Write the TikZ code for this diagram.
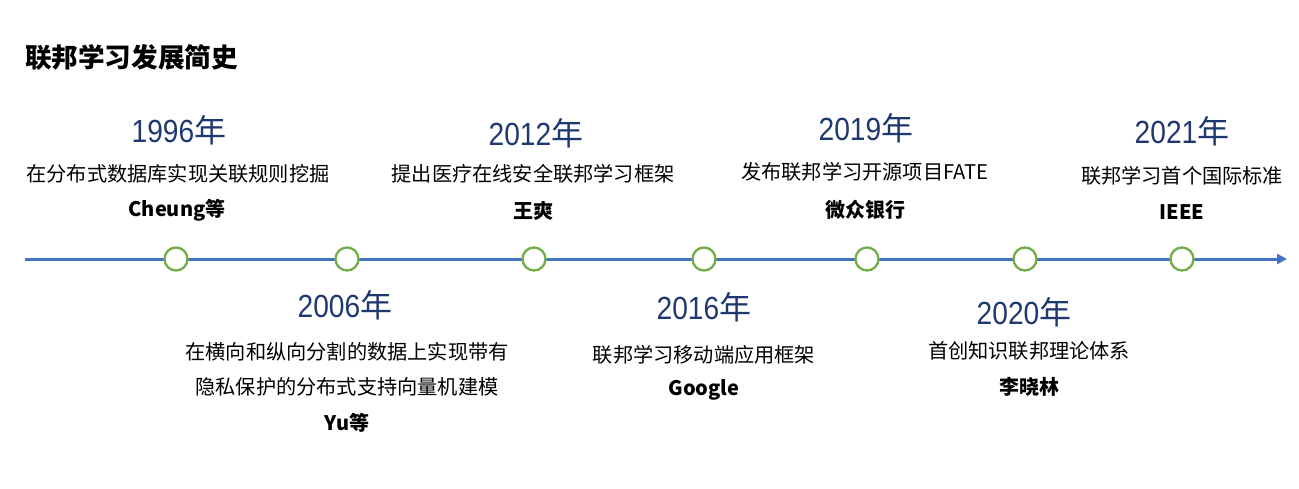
\documentclass[tikz,border=0pt]{standalone}
\usepackage{fontspec}
\setmainfont{Noto Sans CJK SC}
\newfontfamily\arialf{Liberation Sans}
\usetikzlibrary{arrows.meta}
\definecolor{lineblue}{HTML}{4472C4}
\definecolor{dotgreen}{HTML}{70AD47}
\definecolor{yearblue}{HTML}{1F3870}
\newcommand{\yr}[1]{{\arialf\scalebox{0.88}[1]{#1}}年}
\tikzset{
  yearlbl/.style={text=yearblue, font=\fontsize{32pt}{36pt}\selectfont, inner sep=0pt, anchor=center},
  desclbl/.style={text=black, font=\fontsize{20.2pt}{23pt}\selectfont, inner sep=0pt, anchor=center},
  namelbl/.style={text=black, font=\fontsize{20pt}{23pt}\selectfont\bfseries, inner sep=0pt, anchor=center},
  dot/.style={circle, draw=dotgreen, line width=2.3pt, fill=white, minimum size=23pt, inner sep=0pt},
  axis/.style={draw=lineblue, line width=3pt, -{Triangle[length=10pt,width=10pt]}},
}
\begin{document}
\begin{tikzpicture}[x=1pt,y=-1pt]
\useasboundingbox (0,0) rectangle (1299,488);
\node[font=\fontsize{26.6pt}{30pt}\selectfont\bfseries, anchor=west, inner sep=0pt] (title) at (25,57) {联邦学习发展简史};
% axis
\coordinate (start) at (25,259);
\coordinate (end) at (1287,259);
\draw[axis] (start) -- (end);
% dots
\node[dot] (d1) at (176,259) {};
\node[dot] (d2) at (347,259) {};
\node[dot] (d3) at (534,259) {};
\node[dot] (d4) at (704,259) {};
\node[dot] (d5) at (867,259) {};
\node[dot] (d6) at (1025,259) {};
\node[dot] (d7) at (1182,259) {};
% 1996
\node[yearlbl] (y1) at (179,130) {\yr{1996}};
\node[desclbl] (t1) at (178,174) {在分布式数据库实现关联规则挖掘};
\node[namelbl] (n1) at (177,210) {Cheung等};
% 2006
\node[yearlbl] (y2) at (345,305) {\yr{2006}};
\node[desclbl] (t2a) at (347,352) {在横向和纵向分割的数据上实现带有};
\node[desclbl] (t2b) at (347,387) {隐私保护的分布式支持向量机建模};
\node[namelbl] (n2) at (347,423) {Yu等};
% 2012
\node[yearlbl] (y3) at (536,133) {\yr{2012}};
\node[desclbl] (t3) at (533,174) {提出医疗在线安全联邦学习框架};
\node[namelbl] (n3) at (533,211) {王爽};
% 2016
\node[yearlbl] (y4) at (704,307) {\yr{2016}};
\node[desclbl] (t4) at (704,355) {联邦学习移动端应用框架};
\node[namelbl] (n4) at (704,390) {Google};
% 2019
\node[yearlbl] (y5) at (866,128) {\yr{2019}};
\node[desclbl] (t5) at (865,172) {发布联邦学习开源项目FATE};
\node[namelbl] (n5) at (865,210) {微众银行};
% 2020
\node[yearlbl] (y6) at (1024,312) {\yr{2020}};
\node[desclbl] (t6) at (1029,351) {首创知识联邦理论体系};
\node[namelbl] (n6) at (1029,387) {李晓林};
% 2021
\node[yearlbl] (y7) at (1182,131) {\yr{2021}};
\node[desclbl] (t7) at (1182,176) {联邦学习首个国际标准};
\node[namelbl] (n7) at (1182,212) {IEEE};
\end{tikzpicture}
\end{document}
